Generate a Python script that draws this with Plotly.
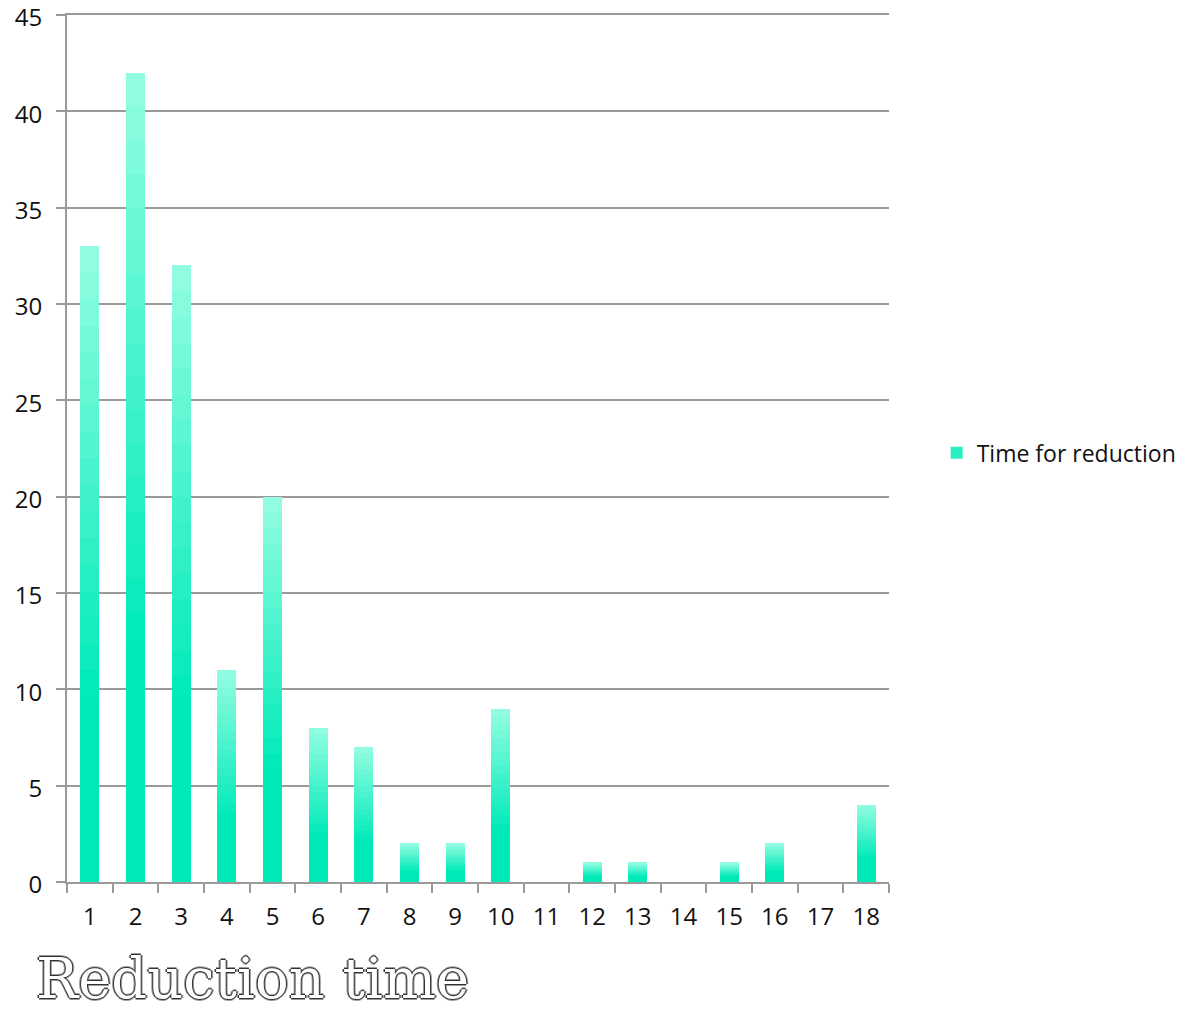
import plotly.graph_objects as go

categories = [str(i) for i in range(1, 19)]
values = [33, 42, 32, 11, 20, 8, 7, 2, 2, 9, 0, 1, 1, 0, 1, 2, 0, 4]
series_name = "Time for reduction"
title_text = "Reduction time"

N_SEG = 24
bottom_rgb = (0, 234, 184)
top_rgb = (148, 253, 226)


def seg_color(frac):
    # solid at the bottom, fading to light towards the top
    t = max(0.0, (frac - 0.3) / 0.7)
    r = [round(b + (tp - b) * t) for b, tp in zip(bottom_rgb, top_rgb)]
    return f"rgb({r[0]},{r[1]},{r[2]})"


fig = go.Figure()
for k in range(N_SEG):
    frac = (k + 0.5) / N_SEG
    fig.add_trace(go.Bar(
        x=categories,
        y=[v / N_SEG for v in values],
        marker=dict(color=seg_color(frac), line=dict(width=0)),
        showlegend=False,
        hoverinfo="skip",
    ))
# legend entry
fig.add_trace(go.Bar(
    x=[categories[0]], y=[None], name=series_name,
    marker=dict(color="rgb(40,238,196)", line=dict(width=0)),
    showlegend=True,
))

grid = "#9a9a9a"
tickfont = dict(family="Open Sans", size=24, color="#111111")

fig.update_layout(
    width=1190, height=1010,
    barmode="stack",
    bargap=0.58,
    plot_bgcolor="white", paper_bgcolor="white",
    margin=dict(l=67, r=301, t=15, b=128, autoexpand=False),
    showlegend=True,
    legend=dict(
        x=1.058, y=0.495, xanchor="left", yanchor="middle",
        font=dict(family="Open Sans", size=23, color="#111111"),
        itemwidth=30, bgcolor="rgba(0,0,0,0)",
    ),
    xaxis=dict(
        type="category", tickson="boundaries",
        ticks="outside", ticklen=9, tickwidth=2, tickcolor=grid,
        showline=True, linecolor=grid, linewidth=2, mirror=True,
        showgrid=False, tickfont=tickfont, zeroline=False,
        ticklabelstandoff=12,
    ),
    yaxis=dict(
        range=[0, 45], dtick=5, tick0=0,
        ticks="outside", ticklen=9, tickwidth=2, tickcolor=grid,
        showline=True, linecolor=grid, linewidth=2,
        showgrid=True, gridcolor=grid, gridwidth=2,
        zeroline=False, tickfont=tickfont,
        ticklabelstandoff=9, ticklabelshift=3, ticklabeloverflow="allow",
    ),
    annotations=[
        dict(
            text=title_text, xref="paper", yref="paper",
            x=-0.04, y=-128 / 867, xanchor="left", yanchor="bottom",
            yshift=-3,
            showarrow=False,
            font=dict(
                family="DejaVu Serif", size=56, color="white",
                shadow="1px 0 0 #333, -1px 0 0 #333, 0 1px 0 #333, 0 -1px 0 #333, 2px 0 0 #999, -2px 0 0 #999, 0 2px 0 #999, 0 -2px 0 #999",
            ),
        ),
    ],
)

fig.write_html(
    "out.html",
    config={"displayModeBar": False},
    post_script="document.body.style.margin='0px';",
)
